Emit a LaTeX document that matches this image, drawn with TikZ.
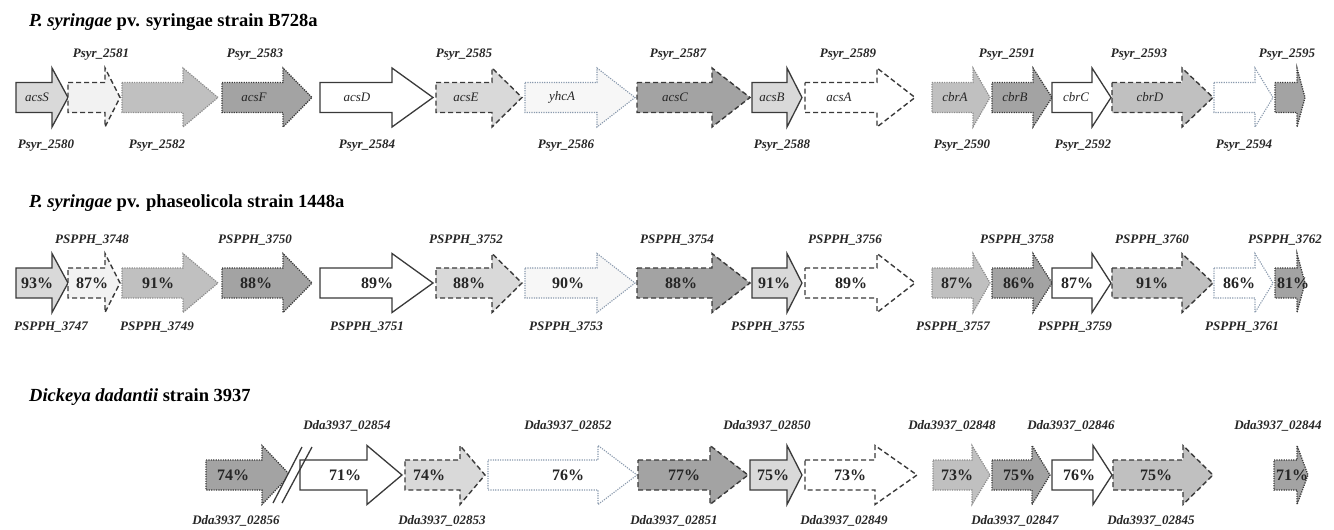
\documentclass[tikz,border=0pt]{standalone}
\usepackage{fontspec}
\setmainfont{Liberation Serif}
\definecolor{cVL}{HTML}{F2F2F2}
\definecolor{cL}{HTML}{D9D9D9}
\definecolor{cM}{HTML}{C0C0C0}
\definecolor{cD}{HTML}{A3A3A3}
\definecolor{lnDark}{HTML}{3A3A3A}
\definecolor{lnGray}{HTML}{8C8C8C}
\definecolor{lnLight}{HTML}{8A9AAE}
\newcommand\gene[5]{\path[#1] (#2,{#5-15}) -- (#3,{#5-15}) -- (#3,{#5-29.5}) -- (#4,#5) -- (#3,{#5+29.5}) -- (#3,{#5+15}) -- (#2,{#5+15}) -- cycle;}
\tikzset{
  solidg/.style={draw=lnDark, line width=1.3pt},
  dashg/.style={draw=lnDark, line width=1.4pt, dash pattern=on 5pt off 3pt},
  dotdark/.style={draw=lnDark, line width=1.3pt, dash pattern=on 1.2pt off 1.2pt},
  dotgray/.style={draw=lnGray, line width=1.2pt, dash pattern=on 1.2pt off 1.2pt},
  dotlight/.style={draw=lnLight, line width=1.1pt, dash pattern=on 1.2pt off 1.2pt},
  ttl/.style={anchor=base west, inner sep=0pt, font=\fontsize{18.5}{19}\selectfont\bfseries},
  lab/.style={inner sep=0pt, font=\fontsize{13}{13}\selectfont\bfseries\itshape, text=black!85},
  pct/.style={inner sep=0pt, font=\fontsize{16}{16}\selectfont\bfseries, text=black!85},
  gname/.style={inner sep=0pt, font=\fontsize{13}{13}\selectfont\itshape, text=black!85},
}
\begin{document}
\begin{tikzpicture}[x=1pt,y=-1pt]
\useasboundingbox[fill=white] (0,0) rectangle (1334,530);
% ---------------- titles
\node[ttl] (t1) at (29,27) {\textit{P. syringae} pv. syringae strain B728a};
\node[ttl] (t2) at (29,207) {\textit{P. syringae} pv. phaseolicola strain 1448a};
\node[ttl] (t3) at (29,401) {\textit{Dickeya dadantii} strain 3937};
% ---------------- row 1 and row 2 arrows (same layout)
\foreach \cy in {97.5, 283}{
  \gene{solidg, fill=cL}{16}{52}{68}{\cy}
  \gene{dashg, fill=cVL}{68}{105}{120}{\cy}
  \gene{dotgray, fill=cM}{122}{183}{218}{\cy}
  \gene{dotdark, fill=cD}{222}{283}{312}{\cy}
  \gene{solidg, fill=white}{320}{392}{433}{\cy}
  \gene{dashg, fill=cL}{436}{492}{522}{\cy}
  \gene{dotlight, fill=white!97!black}{525}{597}{635}{\cy}
  \gene{dashg, fill=cD}{637}{712}{750}{\cy}
  \gene{solidg, fill=cL}{752}{787}{802}{\cy}
  \gene{dashg, fill=white}{805}{877}{915}{\cy}
  \gene{dotgray, fill=cM}{932}{973}{990}{\cy}
  \gene{dotdark, fill=cD}{992}{1033}{1052}{\cy}
  \gene{solidg, fill=white}{1052}{1092}{1111}{\cy}
  \gene{dashg, fill=cM}{1112}{1182}{1213}{\cy}
  \gene{dotlight, fill=white}{1214}{1255}{1273}{\cy}
  \gene{dotdark, fill=cD}{1275}{1297}{1305}{\cy}
}
% ---------------- row 3 arrows
\gene{dotdark, fill=cD}{206}{262}{290}{475}
\fill[white] (273,503) -- (302,447) -- (312,447) -- (282,503) -- cycle;
\gene{solidg, fill=white}{300}{367}{402}{475}
\draw[lnDark, line width=1.3pt] (273,503) -- (302,447) (282,503) -- (312,447);
\gene{dashg, fill=cL}{405}{460}{485}{475}
\gene{dotlight, fill=white}{488}{598}{637}{475}
\gene{dashg, fill=cD}{638}{710}{748}{475}
\gene{solidg, fill=cL}{750}{787}{802}{475}
\gene{dashg, fill=white}{805}{875}{917}{475}
\gene{dotgray, fill=cM}{933}{972}{990}{475}
\gene{dotdark, fill=cD}{992}{1032}{1050}{475}
\gene{solidg, fill=white}{1052}{1093}{1112}{475}
\gene{dashg, fill=cM}{1113}{1183}{1213}{475}
\gene{dotdark, fill=cD}{1274}{1297}{1308}{475}
% ---------------- row 1 texts
\foreach \x/\t [count=\i] in {101/2581, 255/2583, 464/2585, 678/2587, 848/2589, 1007/2591, 1139/2593, 1287/2595}
  \node[lab] (a1-\i) at (\x,55) {Psyr\_\t};
\foreach \x/\t [count=\i] in {46/2580, 157/2582, 367/2584, 566/2586, 782/2588, 962/2590, 1083/2592, 1244/2594}
  \node[lab] (b1-\i) at (\x,146) {Psyr\_\t};
\foreach \x/\t [count=\i] in {37/acsS, 254/acsF, 357/acsD, 466/acsE, 562/yhcA, 675/acsC, 772/acsB, 839/acsA, 955/cbrA, 1015/cbrB, 1076/cbrC, 1150/cbrD}
  \node[gname] (g1-\i) at (\x,97.5) {\t};
% ---------------- row 2 texts
\foreach \x/\t [count=\i] in {92/3748, 255/3750, 466/3752, 677/3754, 845/3756, 1017/3758, 1152/3760, 1285/3762}
  \node[lab] (a2-\i) at (\x,240) {PSPPH\_\t};
\foreach \x/\t [count=\i] in {51/3747, 157/3749, 367/3751, 566/3753, 768/3755, 953/3757, 1075/3759, 1242/3761}
  \node[lab] (b2-\i) at (\x,327) {PSPPH\_\t};
\foreach \x/\t [count=\i] in {37/93, 92/87, 158/91, 256/88, 377/89, 469/88, 568/90, 681/88, 774/91, 851/89, 957/87, 1019/86, 1077/87, 1152/91, 1239/86, 1293/81}
  \node[pct] (p2-\i) at (\x,283) {\t\%};
% ---------------- row 3 texts
\foreach \x/\t [count=\i] in {347/02854, 568/02852, 767/02850, 952/02848, 1071/02846, 1278/02844}
  \node[lab] (a3-\i) at (\x,426) {Dda3937\_\t};
\foreach \x/\t [count=\i] in {236/02856, 442/02853, 674/02851, 844/02849, 1015/02847, 1151/02845}
  \node[lab] (b3-\i) at (\x,521) {Dda3937\_\t};
\foreach \x/\t [count=\i] in {233/74, 345/71, 429/74, 568/76, 684/77, 773/75, 850/73, 957/73, 1019/75, 1079/76, 1156/75, 1292/71}
  \node[pct] (p3-\i) at (\x,475) {\t\%};
\end{tikzpicture}
\end{document}
